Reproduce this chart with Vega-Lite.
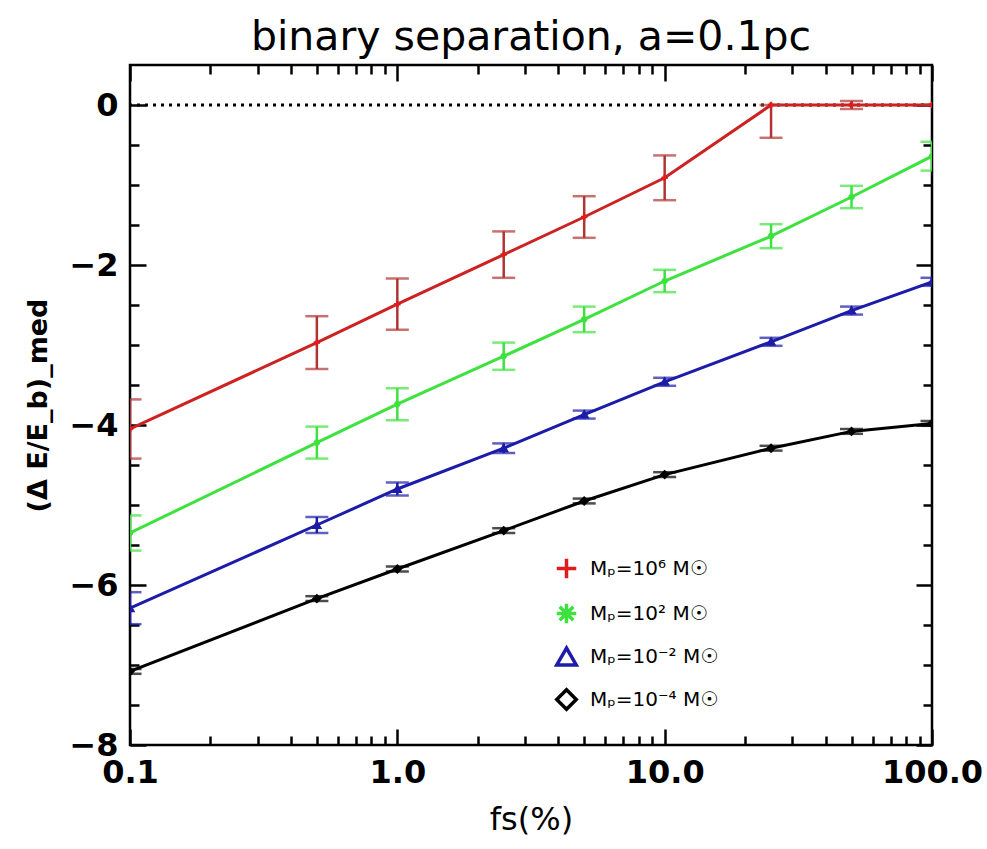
{
  "$schema": "https://vega.github.io/schema/vega-lite/v6.json",
  "autosize": {"type": "none"},
  "width": 802,
  "height": 680,
  "padding": {"left": 130, "top": 65, "right": 55, "bottom": 104},
  "background": "white",
  "config": {
    "font": "DejaVu Sans",
    "view": {"stroke": "black", "strokeWidth": 2.5},
    "axis": {"domain": false, "grid": false, "labelFlush": false, "tickColor": "black", "tickWidth": 2.5, "labelColor": "black", "titleColor": "black", "titleFontWeight": "normal"}
  },
  "title": {"text": "binary separation, a=0.1pc", "fontSize": 41, "fontWeight": "normal", "font": "DejaVu Sans", "offset": 5, "anchor": "middle", "color": "black"},
  "data": {
    "values": [
      {"fs": 0.1, "val": -4.05, "lo": -4.42, "hi": -3.68, "series": "Mₚ=10⁶ M☉"},
      {"fs": 0.5, "val": -2.97, "lo": -3.30, "hi": -2.64, "series": "Mₚ=10⁶ M☉"},
      {"fs": 1, "val": -2.49, "lo": -2.81, "hi": -2.17, "series": "Mₚ=10⁶ M☉"},
      {"fs": 2.5, "val": -1.87, "lo": -2.16, "hi": -1.58, "series": "Mₚ=10⁶ M☉"},
      {"fs": 5, "val": -1.40, "lo": -1.66, "hi": -1.14, "series": "Mₚ=10⁶ M☉"},
      {"fs": 10, "val": -0.91, "lo": -1.19, "hi": -0.63, "series": "Mₚ=10⁶ M☉"},
      {"fs": 25, "val": 0, "lo": -0.41, "hi": 0, "series": "Mₚ=10⁶ M☉"},
      {"fs": 50, "val": 0, "lo": -0.05, "hi": 0.05, "series": "Mₚ=10⁶ M☉"},
      {"fs": 100, "val": 0, "lo": 0, "hi": 0, "series": "Mₚ=10⁶ M☉"},
      {"fs": 0.1, "val": -5.35, "lo": -5.57, "hi": -5.13, "series": "Mₚ=10² M☉"},
      {"fs": 0.5, "val": -4.22, "lo": -4.42, "hi": -4.02, "series": "Mₚ=10² M☉"},
      {"fs": 1, "val": -3.74, "lo": -3.94, "hi": -3.54, "series": "Mₚ=10² M☉"},
      {"fs": 2.5, "val": -3.14, "lo": -3.31, "hi": -2.97, "series": "Mₚ=10² M☉"},
      {"fs": 5, "val": -2.68, "lo": -2.84, "hi": -2.52, "series": "Mₚ=10² M☉"},
      {"fs": 10, "val": -2.20, "lo": -2.34, "hi": -2.06, "series": "Mₚ=10² M☉"},
      {"fs": 25, "val": -1.64, "lo": -1.79, "hi": -1.49, "series": "Mₚ=10² M☉"},
      {"fs": 50, "val": -1.15, "lo": -1.29, "hi": -1.01, "series": "Mₚ=10² M☉"},
      {"fs": 100, "val": -0.64, "lo": -0.82, "hi": -0.46, "series": "Mₚ=10² M☉"},
      {"fs": 0.1, "val": -6.29, "lo": -6.49, "hi": -6.09, "series": "Mₚ=10⁻² M☉"},
      {"fs": 0.5, "val": -5.25, "lo": -5.35, "hi": -5.15, "series": "Mₚ=10⁻² M☉"},
      {"fs": 1, "val": -4.80, "lo": -4.88, "hi": -4.72, "series": "Mₚ=10⁻² M☉"},
      {"fs": 2.5, "val": -4.29, "lo": -4.35, "hi": -4.23, "series": "Mₚ=10⁻² M☉"},
      {"fs": 5, "val": -3.87, "lo": -3.92, "hi": -3.82, "series": "Mₚ=10⁻² M☉"},
      {"fs": 10, "val": -3.46, "lo": -3.51, "hi": -3.41, "series": "Mₚ=10⁻² M☉"},
      {"fs": 25, "val": -2.96, "lo": -3.01, "hi": -2.91, "series": "Mₚ=10⁻² M☉"},
      {"fs": 50, "val": -2.57, "lo": -2.62, "hi": -2.52, "series": "Mₚ=10⁻² M☉"},
      {"fs": 100, "val": -2.21, "lo": -2.26, "hi": -2.16, "series": "Mₚ=10⁻² M☉"},
      {"fs": 0.1, "val": -7.08, "lo": -7.11, "hi": -7.05, "series": "Mₚ=10⁻⁴ M☉"},
      {"fs": 0.5, "val": -6.17, "lo": -6.20, "hi": -6.14, "series": "Mₚ=10⁻⁴ M☉"},
      {"fs": 1, "val": -5.80, "lo": -5.83, "hi": -5.77, "series": "Mₚ=10⁻⁴ M☉"},
      {"fs": 2.5, "val": -5.32, "lo": -5.35, "hi": -5.29, "series": "Mₚ=10⁻⁴ M☉"},
      {"fs": 5, "val": -4.95, "lo": -4.98, "hi": -4.92, "series": "Mₚ=10⁻⁴ M☉"},
      {"fs": 10, "val": -4.62, "lo": -4.65, "hi": -4.59, "series": "Mₚ=10⁻⁴ M☉"},
      {"fs": 25, "val": -4.29, "lo": -4.32, "hi": -4.26, "series": "Mₚ=10⁻⁴ M☉"},
      {"fs": 50, "val": -4.08, "lo": -4.11, "hi": -4.05, "series": "Mₚ=10⁻⁴ M☉"},
      {"fs": 100, "val": -3.98, "lo": -4.01, "hi": -3.95, "series": "Mₚ=10⁻⁴ M☉"}
    ]
  },
  "layer": [
    {
      "data": {"values": [{"z": 0}]},
      "mark": {"type": "rule", "color": "black", "strokeWidth": 3, "strokeDash": [3, 5]},
      "encoding": {"y": {"field": "z", "type": "quantitative", "scale": {"domain": [-8, 0.5], "nice": false}, "axis": null}}
    },
    {
      "mark": {"type": "line", "strokeWidth": 3, "clip": true},
      "encoding": {
        "x": {"field": "fs", "type": "quantitative", "scale": {"type": "log", "domain": [0.1, 100], "nice": false},
          "axis": {"orient": "bottom", "values": [0.1, 1, 10, 100], "tickSize": -16, "labelPadding": 28, "labelFontSize": 32, "labelFontWeight": "bold", "labelExpr": "datum.value < 0.5 ? '0.1' : format(datum.value, '.1f')", "title": "fs(%)", "titleFontSize": 32, "titlePadding": 16}},
        "y": {"field": "val", "type": "quantitative", "scale": {"domain": [-8, 0.5], "nice": false},
          "axis": {"orient": "left", "values": [0, -2, -4, -6, -8], "tickSize": -16, "labelPadding": 28, "labelFontSize": 32, "labelFontWeight": "bold", "title": "(Δ E/E_b)_med", "titleFontSize": 27, "titleFontWeight": "bold", "titlePadding": 16}},
        "color": {"field": "series", "type": "nominal", "scale": {"domain": ["Mₚ=10⁶ M☉", "Mₚ=10² M☉", "Mₚ=10⁻² M☉", "Mₚ=10⁻⁴ M☉"], "range": ["#cc2222", "#3ee23e", "#1c1ca8", "#000000"]}, "legend": null}
      }
    },
    {
      "mark": {"type": "rule", "strokeWidth": 2.5, "clip": true},
      "encoding": {
        "x": {"field": "fs", "type": "quantitative", "scale": {"type": "log", "domain": [0.1, 100], "nice": false},
          "axis": {"orient": "bottom", "values": [0.2, 0.3, 0.4, 0.5, 0.6, 0.7, 0.8, 0.9, 2, 3, 4, 5, 6, 7, 8, 9, 20, 30, 40, 50, 60, 70, 80, 90], "tickSize": -9, "labels": false, "title": null}},
        "y": {"field": "lo", "type": "quantitative", "scale": {"domain": [-8, 0.5], "nice": false},
          "axis": {"orient": "left", "values": [-0.5, -1, -1.5, -2.5, -3, -3.5, -4.5, -5, -5.5, -6.5, -7, -7.5], "tickSize": -9, "labels": false, "title": null}},
        "y2": {"field": "hi"},
        "color": {"field": "series", "type": "nominal", "scale": {"domain": ["Mₚ=10⁶ M☉", "Mₚ=10² M☉", "Mₚ=10⁻² M☉", "Mₚ=10⁻⁴ M☉"], "range": ["#b03434", "#3ee23e", "#1c1ca8", "#000000"]}, "legend": null}
      }
    },
    {
      "mark": {"type": "tick", "orient": "horizontal", "size": 23, "thickness": 2.5, "clip": true},
      "encoding": {
        "x": {"field": "fs", "type": "quantitative", "scale": {"type": "log", "domain": [0.1, 100], "nice": false},
          "axis": {"orient": "top", "values": [0.1, 1, 10, 100], "tickSize": -16, "labels": false, "title": null}},
        "y": {"field": "lo", "type": "quantitative", "scale": {"domain": [-8, 0.5], "nice": false},
          "axis": {"orient": "right", "values": [0, -2, -4, -6, -8], "tickSize": -16, "labels": false, "title": null}},
        "color": {"field": "series", "type": "nominal", "scale": {"domain": ["Mₚ=10⁶ M☉", "Mₚ=10² M☉", "Mₚ=10⁻² M☉", "Mₚ=10⁻⁴ M☉"], "range": ["#b03434", "#3ee23e", "#1c1ca8", "#000000"]}, "legend": null}
      }
    },
    {
      "mark": {"type": "tick", "orient": "horizontal", "size": 23, "thickness": 2.5, "clip": true},
      "encoding": {
        "x": {"field": "fs", "type": "quantitative", "scale": {"type": "log", "domain": [0.1, 100], "nice": false},
          "axis": {"orient": "top", "values": [0.2, 0.3, 0.4, 0.5, 0.6, 0.7, 0.8, 0.9, 2, 3, 4, 5, 6, 7, 8, 9, 20, 30, 40, 50, 60, 70, 80, 90], "tickSize": -9, "labels": false, "title": null}},
        "y": {"field": "hi", "type": "quantitative", "scale": {"domain": [-8, 0.5], "nice": false},
          "axis": {"orient": "right", "values": [-0.5, -1, -1.5, -2.5, -3, -3.5, -4.5, -5, -5.5, -6.5, -7, -7.5], "tickSize": -9, "labels": false, "title": null}},
        "color": {"field": "series", "type": "nominal", "scale": {"domain": ["Mₚ=10⁶ M☉", "Mₚ=10² M☉", "Mₚ=10⁻² M☉", "Mₚ=10⁻⁴ M☉"], "range": ["#b03434", "#3ee23e", "#1c1ca8", "#000000"]}, "legend": null}
      }
    },
    {
      "mark": {"type": "point", "filled": false, "strokeWidth": 2.5, "size": 40, "opacity": 1, "clip": true},
      "encoding": {
        "x": {"field": "fs", "type": "quantitative", "scale": {"type": "log", "domain": [0.1, 100], "nice": false}, "axis": null},
        "y": {"field": "val", "type": "quantitative", "scale": {"domain": [-8, 0.5], "nice": false}, "axis": null},
        "color": {"field": "series", "type": "nominal",
          "scale": {"domain": ["Mₚ=10⁶ M☉", "Mₚ=10² M☉", "Mₚ=10⁻² M☉", "Mₚ=10⁻⁴ M☉"], "range": ["#dd1c1c", "#3ee23e", "#1c1ca8", "#000000"]},
          "legend": {"orient": "none", "legendX": 425, "legendY": 492, "title": null, "labelFontSize": 20, "labelFont": "DejaVu Sans", "labelColor": "black", "symbolSize": 380, "symbolStrokeWidth": 3.5, "rowPadding": 10, "labelOffset": 12, "padding": 0}},
        "shape": {"field": "series", "type": "nominal",
          "scale": {"domain": ["Mₚ=10⁶ M☉", "Mₚ=10² M☉", "Mₚ=10⁻² M☉", "Mₚ=10⁻⁴ M☉"], "range": ["M-1,0L1,0M0,-1L0,1", "M-1,0L1,0M0,-1L0,1M-0.7,-0.7L0.7,0.7M-0.7,0.7L0.7,-0.7", "triangle-up", "diamond"]},
          "legend": {"orient": "none", "legendX": 425, "legendY": 492, "title": null, "labelFontSize": 20, "labelFont": "DejaVu Sans", "labelColor": "black", "symbolSize": 380, "symbolStrokeWidth": 3.5, "rowPadding": 10, "labelOffset": 12, "padding": 0}}
      }
    }
  ],
  "resolve": {"axis": {"x": "independent", "y": "independent"}, "scale": {"color": "independent", "shape": "independent"}}
}
